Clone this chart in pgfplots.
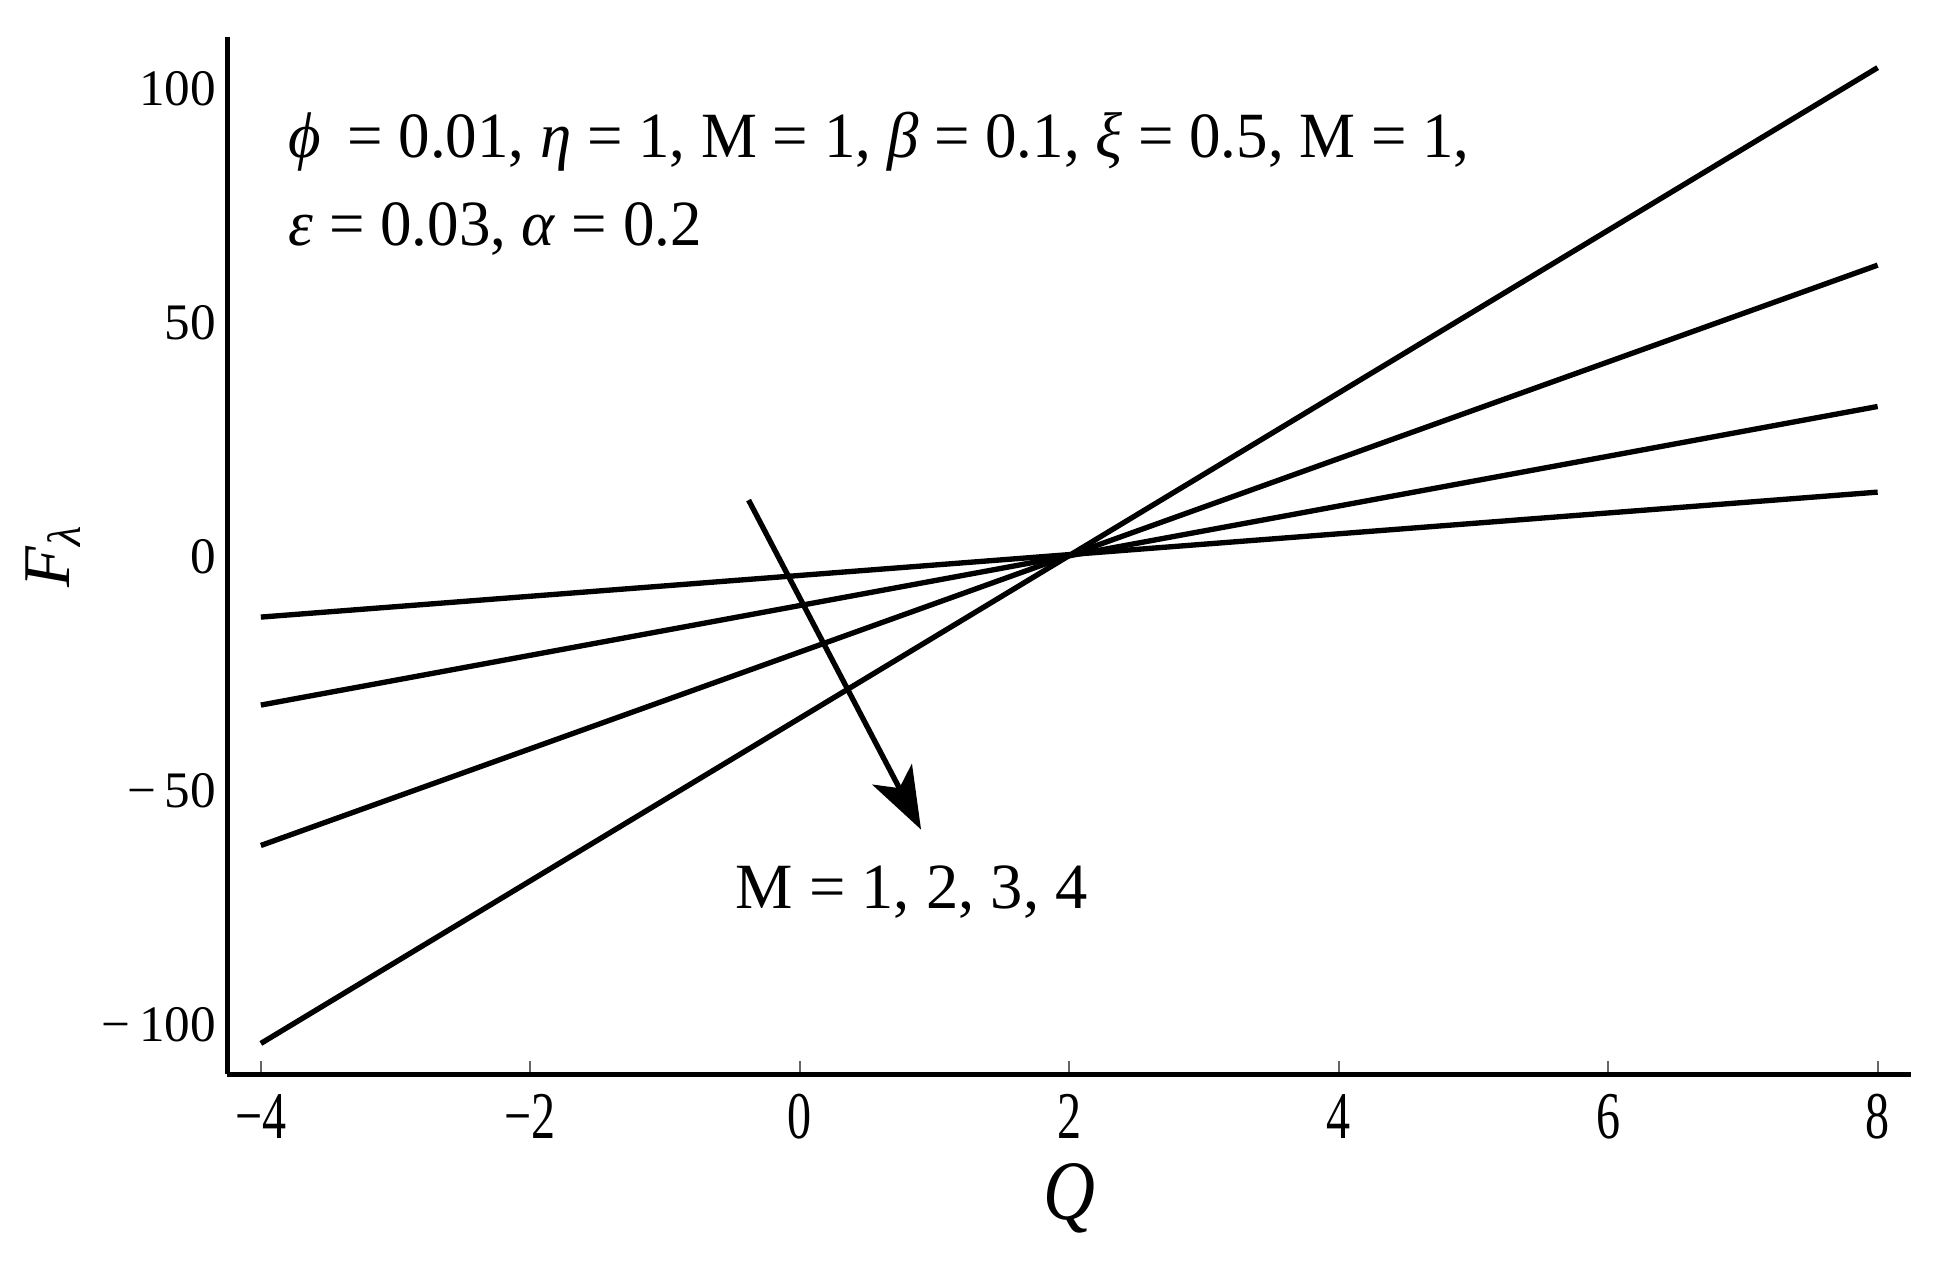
\documentclass[border=0pt]{standalone}
\usepackage{pgfplots}
\pgfplotsset{compat=1.18}
\usepackage{fontspec}
\setmainfont{Liberation Serif}
\usetikzlibrary{arrows.meta}
\newcommand{\cx}[1]{\scalebox{0.72}[1]{#1}}
\begin{document}
\begin{tikzpicture}
\begin{axis}[
  name=ax,
  scale only axis,
  width=13.3cm, height=8.19cm,
  xmin=-4.25, xmax=8.25, ymin=-110.6, ymax=111,
  axis x line*=bottom, axis y line*=left,
  axis line style={line width=1.1pt, -},
  xtick={-4,-2,0,2,4,6,8},
  xticklabels={\cx{−4},\cx{−2},\cx{0},\cx{2},\cx{4},\cx{6},\cx{8}},
  ytick={-100,-50,0,50,100},
  yticklabels={−\,100,−\,50,0,50,100},
  xtick style={line width=0.4pt, black!60},
  major tick length=3pt,
  ytick style={draw=none},
  tick align=inside,
  xticklabel style={font=\fontsize{15}{17}\selectfont, yshift=-1pt},
  yticklabel style={font=\fontsize{11.5}{13}\selectfont, xshift=1pt},
  xlabel={\fontsize{19}{21}\selectfont\scalebox{0.85}[1]{\textit{Q}}},
  ylabel={\fontsize{15}{17}\selectfont\textit{F}\textsubscript{\textit{λ}}},
  xlabel style={yshift=1.5pt},
  ylabel style={yshift=-2pt},
  clip=false,
]
\addplot[black, line width=1.2pt] coordinates {(-4,-12.9) (8,13.8)};
\addplot[black, line width=1.2pt] coordinates {(-4,-31.7) (8,32.1)};
\addplot[black, line width=1.2pt] coordinates {(-4,-61.7) (8,62.3)};
\addplot[black, line width=1.2pt] coordinates {(-4,-104) (8,104.5)};
\draw[black, line width=1.2pt, -{Stealth[length=14pt, width=10pt, inset=3.5pt]}] (axis cs:-0.38,12.1) -- (axis cs:0.90,-58.3);
\node[anchor=west, font=\fontsize{14.5}{17}\selectfont, inner sep=0pt] at (axis cs:-3.8,88.6) {\scalebox{0.975}[1]{\textit{ϕ} \,= 0.01, \textit{η} = 1, M = 1, \textit{β} = 0.1, \textit{ξ} = 0.5, M = 1,}};
\node[anchor=west, font=\fontsize{14.5}{17}\selectfont, inner sep=0pt] at (axis cs:-3.8,70) {\scalebox{0.975}[1]{\textit{ε} = 0.03, \textit{α} = 0.2}};
\node[anchor=center, font=\fontsize{14.5}{17}\selectfont, inner sep=0pt] at (axis cs:0.83,-71.6) {M = 1, 2, 3, 4};
\end{axis}
\pgfresetboundingbox
\path ([xshift=-1.794cm, yshift=-1.52cm]ax.south west) rectangle ([xshift=0.274cm, yshift=0.294cm]ax.north east);
\end{tikzpicture}
\end{document}
